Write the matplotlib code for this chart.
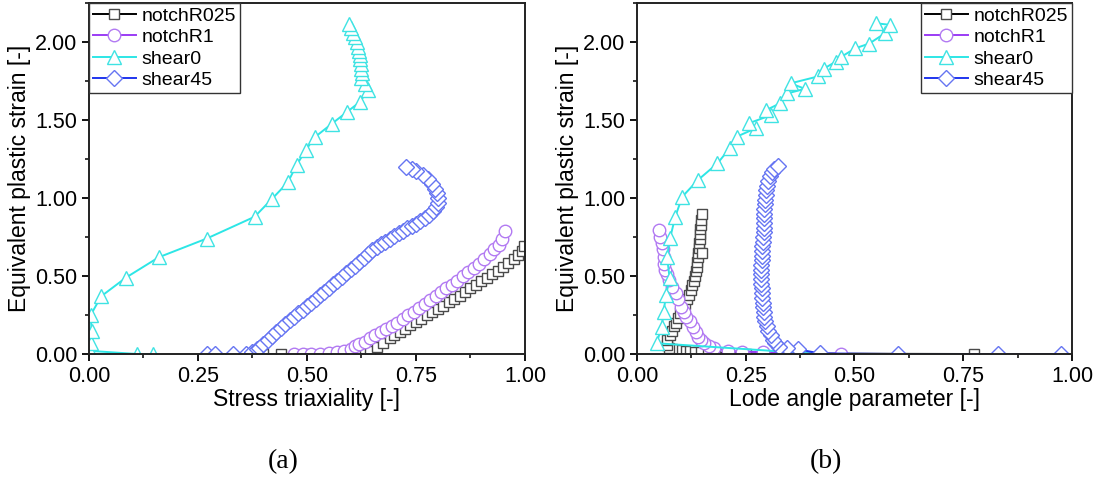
import matplotlib
matplotlib.use("Agg")
import matplotlib.pyplot as plt
from matplotlib.ticker import MultipleLocator, FormatStrFormatter

plt.rcParams['font.family'] = ['Liberation Sans', 'DejaVu Sans']

# ---- (a) stress triaxiality vs equivalent plastic strain ----
a_r025_x = [0.40, 0.44, 0.50, 0.56, 0.62, 0.633, 0.645, 0.66, 0.675, 0.69, 0.70, 0.713, 0.725,
            0.737, 0.75, 0.762, 0.775, 0.787, 0.80, 0.812, 0.825, 0.837, 0.85, 0.862, 0.875,
            0.887, 0.90, 0.912, 0.925, 0.937, 0.95, 0.962, 0.975, 0.985, 0.993, 0.998]
a_r025_y = [0.0, 0.0, 0.0, 0.0, 0.0, 0.005, 0.02, 0.045, 0.07, 0.10, 0.12, 0.14, 0.16,
            0.185, 0.205, 0.225, 0.25, 0.27, 0.29, 0.31, 0.335, 0.355, 0.375, 0.40, 0.42,
            0.445, 0.465, 0.49, 0.51, 0.535, 0.56, 0.585, 0.61, 0.635, 0.66, 0.69]

a_r1_x = [0.47, 0.49, 0.51, 0.53, 0.55, 0.57, 0.585, 0.60, 0.61, 0.62, 0.632, 0.645, 0.657,
          0.67, 0.682, 0.695, 0.707, 0.72, 0.732, 0.745, 0.757, 0.77, 0.782, 0.795, 0.807,
          0.82, 0.832, 0.845, 0.857, 0.87, 0.882, 0.895, 0.907, 0.92, 0.93, 0.94, 0.948, 0.955]
a_r1_y = [0.0, 0.0, 0.0, 0.0, 0.005, 0.01, 0.02, 0.035, 0.05, 0.065, 0.08, 0.10, 0.12,
          0.14, 0.16, 0.18, 0.20, 0.225, 0.25, 0.27, 0.295, 0.32, 0.345, 0.37, 0.395,
          0.42, 0.445, 0.47, 0.50, 0.525, 0.55, 0.58, 0.61, 0.64, 0.67, 0.70, 0.74, 0.79]

a_s0_x = [0.147, 0.11, 0.003, 0.005, 0.006, 0.004, 0.028, 0.085, 0.16, 0.27, 0.38, 0.42,
          0.456, 0.476, 0.498, 0.518, 0.557, 0.591, 0.621, 0.64, 0.633, 0.625, 0.627, 0.625,
          0.624, 0.622, 0.621, 0.62, 0.617, 0.614, 0.61, 0.606, 0.602, 0.597]
a_s0_y = [0.0, 0.0, 0.02, 0.07, 0.15, 0.25, 0.37, 0.49, 0.62, 0.74, 0.88, 0.995,
          1.10, 1.21, 1.31, 1.39, 1.476, 1.55, 1.615, 1.69, 1.73, 1.77, 1.80, 1.83,
          1.86, 1.89, 1.915, 1.94, 1.97, 2.0, 2.03, 2.06, 2.09, 2.117]

a_s45_x = [0.27, 0.29, 0.33, 0.36, 0.375, 0.385, 0.39, 0.40, 0.41, 0.42, 0.43, 0.44, 0.45,
           0.46, 0.47, 0.48, 0.49, 0.50, 0.51, 0.52, 0.53, 0.54, 0.55, 0.56, 0.57, 0.58,
           0.59, 0.60, 0.61, 0.62, 0.63, 0.64, 0.65, 0.66, 0.67, 0.68, 0.69, 0.70, 0.71,
           0.72, 0.73, 0.74, 0.75, 0.76, 0.77, 0.78, 0.79, 0.797, 0.80, 0.80, 0.798, 0.794,
           0.787, 0.777, 0.765, 0.75, 0.74, 0.728]
a_s45_y = [0.0, 0.0, 0.0, 0.0, 0.01, 0.03, 0.04, 0.065, 0.09, 0.115, 0.14, 0.165, 0.19,
           0.215, 0.24, 0.26, 0.285, 0.31, 0.33, 0.355, 0.38, 0.40, 0.425, 0.45, 0.47, 0.495,
           0.52, 0.545, 0.565, 0.59, 0.615, 0.64, 0.665, 0.685, 0.705, 0.72, 0.74, 0.755, 0.775,
           0.79, 0.805, 0.82, 0.835, 0.85, 0.87, 0.89, 0.915, 0.94, 0.97, 1.0, 1.03, 1.06,
           1.09, 1.12, 1.145, 1.17, 1.185, 1.2]

# ---- (b) Lode angle parameter vs equivalent plastic strain ----
b_r025_x = [0.775, 0.25, 0.21, 0.18, 0.16, 0.14, 0.125, 0.11, 0.10, 0.09, 0.08, 0.073, 0.068,
            0.07, 0.075, 0.08, 0.085, 0.09, 0.095, 0.10, 0.105, 0.11, 0.115, 0.12, 0.124,
            0.127, 0.13, 0.133, 0.135, 0.137, 0.139, 0.14, 0.141, 0.142, 0.143, 0.144,
            0.145, 0.146, 0.147, 0.148, 0.149, 0.149]
b_r025_y = [0.0, 0.003, 0.006, 0.01, 0.012, 0.014, 0.016, 0.018, 0.02, 0.025, 0.03, 0.04, 0.06,
            0.09, 0.12, 0.15, 0.18, 0.2, 0.23, 0.26, 0.29, 0.32, 0.35, 0.38, 0.41,
            0.44, 0.47, 0.50, 0.53, 0.56, 0.59, 0.62, 0.65, 0.68, 0.71, 0.74,
            0.77, 0.80, 0.83, 0.86, 0.90, 0.65]

b_r1_x = [0.47, 0.29, 0.241, 0.209, 0.177, 0.165, 0.153, 0.147, 0.141, 0.135, 0.129, 0.121,
          0.113, 0.107, 0.101, 0.095, 0.089, 0.081, 0.073, 0.068, 0.065, 0.063, 0.061, 0.059,
          0.057, 0.054, 0.051]
b_r1_y = [0.0, 0.012, 0.015, 0.021, 0.036, 0.05, 0.069, 0.09, 0.111, 0.14, 0.176, 0.21,
          0.24, 0.27, 0.304, 0.35, 0.39, 0.43, 0.475, 0.51, 0.54, 0.58, 0.625, 0.67,
          0.711, 0.75, 0.797]

b_s0_x = [0.42, 0.045, 0.057, 0.061, 0.067, 0.075, 0.069, 0.076, 0.088, 0.104, 0.140, 0.185,
          0.213, 0.229, 0.273, 0.257, 0.309, 0.297, 0.329, 0.345, 0.386, 0.353, 0.417, 0.430,
          0.457, 0.470, 0.502, 0.534, 0.570, 0.550, 0.582]
b_s0_y = [0.0, 0.069, 0.176, 0.272, 0.379, 0.486, 0.625, 0.742, 0.88, 1.008, 1.115, 1.222,
          1.318, 1.393, 1.447, 1.479, 1.532, 1.564, 1.607, 1.67, 1.70, 1.735, 1.78, 1.83,
          1.874, 1.906, 1.96, 1.99, 2.056, 2.12, 2.11]

b_s45_x = [0.975, 0.83, 0.60, 0.42, 0.37, 0.345, 0.326, 0.318, 0.313, 0.307, 0.302, 0.298,
           0.295, 0.293, 0.291, 0.29, 0.289, 0.288, 0.287, 0.287, 0.286, 0.286, 0.286, 0.286,
           0.286, 0.287, 0.287, 0.288, 0.288, 0.289, 0.29, 0.291, 0.291, 0.292, 0.292, 0.293,
           0.293, 0.294, 0.295, 0.296, 0.297, 0.299, 0.302, 0.305, 0.31, 0.316, 0.325]
b_s45_y = [0.0, 0.0, 0.0, 0.004, 0.03, 0.04, 0.047, 0.07, 0.09, 0.12, 0.15, 0.18,
           0.21, 0.24, 0.27, 0.30, 0.33, 0.36, 0.39, 0.42, 0.45, 0.48, 0.51, 0.54,
           0.57, 0.60, 0.63, 0.66, 0.69, 0.72, 0.75, 0.78, 0.81, 0.84, 0.87, 0.90,
           0.93, 0.96, 0.99, 1.02, 1.05, 1.08, 1.11, 1.14, 1.165, 1.185, 1.207]

labels = ['notchR025', 'notchR1', 'shear0', 'shear45']
line_colors = ['#000000', '#9b3cf5', '#2de6e6', '#1f35ee']
edge_colors = ['#4a4a4a', '#b27af2', '#3fe3e3', '#6675f2']
markers = ['s', 'o', '^', 'D']
msizes = [7, 9, 10, 8]


def panel(ax, series, xlabel, legend_loc):
    for (x, y), lab, lc, ec, mk, ms in zip(series, labels, line_colors,
                                            edge_colors, markers, msizes):
        ax.plot(x, y, color=lc, lw=1.4, marker=mk, ms=ms, mfc='white',
                mec=ec, mew=1.0, label=lab)
    ax.set_xlim(0, 1.0)
    ax.set_ylim(0, 2.25)
    ax.xaxis.set_major_locator(MultipleLocator(0.25))
    ax.xaxis.set_minor_locator(MultipleLocator(0.125))
    ax.yaxis.set_major_locator(MultipleLocator(0.5))
    ax.yaxis.set_minor_locator(MultipleLocator(0.25))
    ax.xaxis.set_major_formatter(FormatStrFormatter('%.2f'))
    ax.yaxis.set_major_formatter(FormatStrFormatter('%.2f'))
    ax.tick_params(which='major', direction='out', length=5, width=1.3, labelsize=15.5)
    ax.tick_params(which='minor', direction='out', length=3, width=1.1)
    for s in ax.spines.values():
        s.set_linewidth(1.4)
        s.set_color('#222222')
    ax.set_xlabel(xlabel, fontsize=16.5, labelpad=1)
    ax.set_ylabel('Equivalent plastic strain [-]', fontsize=16.5, labelpad=3)
    leg = ax.legend(loc=legend_loc, borderaxespad=0, fancybox=False,
                    edgecolor='#333333', framealpha=1, fontsize=14,
                    handlelength=2.2, handletextpad=0.3, labelspacing=0.2,
                    borderpad=0.2)
    leg.get_frame().set_linewidth(1.0)


fig = plt.figure(figsize=(11.08, 4.87), dpi=100)
ax1 = fig.add_axes([0.0803, 0.2731, 0.3935, 0.7207])
ax2 = fig.add_axes([0.5749, 0.2731, 0.3926, 0.7207])

panel(ax1, [(a_r025_x, a_r025_y), (a_r1_x, a_r1_y), (a_s0_x, a_s0_y), (a_s45_x, a_s45_y)],
      'Stress triaxiality [-]', 'upper left')
panel(ax2, [(b_r025_x, b_r025_y), (b_r1_x, b_r1_y), (b_s0_x, b_s0_y), (b_s45_x, b_s45_y)],
      'Lode angle parameter [-]', 'upper right')

fig.text(283 / 1108, 1 - 462 / 487, '(a)', ha='center', va='center',
         fontsize=20, family=['Liberation Serif'])
fig.text(826 / 1108, 1 - 462 / 487, '(b)', ha='center', va='center',
         fontsize=20, family=['Liberation Serif'])

fig.savefig('out.png', dpi=100)
